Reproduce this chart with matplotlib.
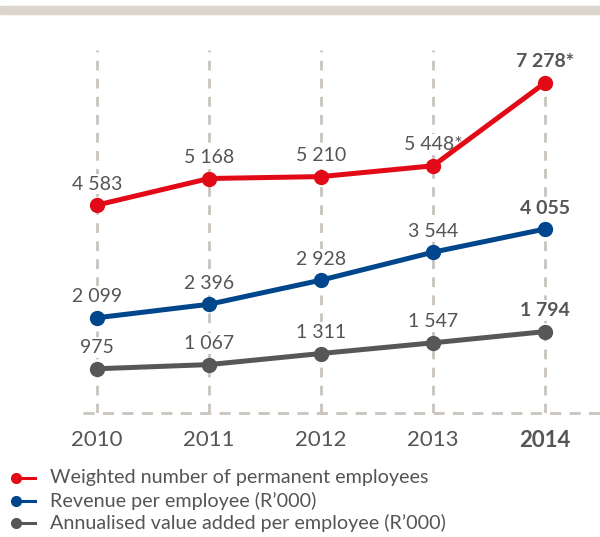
import matplotlib.pyplot as plt
from matplotlib.lines import Line2D
from matplotlib.patches import Rectangle

years = [2010, 2011, 2012, 2013, 2014]
year_labels = ["2010", "2011", "2012", "2013", "2014"]

employees = [4583, 5168, 5210, 5448, 7278]
employees_labels = ["4 583", "5 168", "5 210", "5 448*", "7 278*"]

revenue = [2099, 2396, 2928, 3544, 4055]
revenue_labels = ["2 099", "2 396", "2 928", "3 544", "4 055"]

value_added = [975, 1067, 1311, 1547, 1794]
value_added_labels = ["975", "1 067", "1 311", "1 547", "1 794"]

series_names = [
    "Weighted number of permanent employees",
    "Revenue per employee (R\u2019000)",
    "Annualised value added per employee (R\u2019000)",
]
colors = ["#e30a17", "#00468c", "#575757"]

text_color = "#555555"
grid_color = "#c9c4bc"

plt.rcParams["font.family"] = ["Lato", "DejaVu Sans"]

W, H = 600, 537
fig = plt.figure(figsize=(W / 100, H / 100), dpi=100)

# beige band along the top
fig.patches.append(Rectangle((0, 1 - 14 / H), 1, 8 / H, transform=fig.transFigure,
                             color="#dad5cd", zorder=0))

ax = fig.add_axes([83 / W, (H - 413) / H, (W - 83) / W, (413 - 50) / H])
ax.set_xlim(2009.875, 2014.49)
ax.set_ylim(0, 8000)
for s in ax.spines.values():
    s.set_visible(False)

# dashed grid
ax.vlines(years, 0, 8000, colors=grid_color, linewidth=2, linestyles=(0, (3.5, 3)), zorder=1)
ax.axhline(0, color=grid_color, linewidth=2, linestyle=(0, (4, 3)), zorder=1, clip_on=False)

all_series = [
    (employees, employees_labels),
    (revenue, revenue_labels),
    (value_added, value_added_labels),
]
for (vals, labels), color in zip(all_series, colors):
    ax.plot(years, vals, color=color, linewidth=3.6, marker="o", markersize=10,
            zorder=3, clip_on=False, solid_capstyle="round")
    for i, (x, y, lab) in enumerate(zip(years, vals, labels)):
        bold = i == len(years) - 1
        ax.annotate(lab, (x, y), xytext=(0, 9), textcoords="offset points",
                    ha="center", va="bottom", fontsize=14, color=text_color,
                    fontweight="bold" if bold else "normal", zorder=2,
                    bbox=dict(boxstyle="square,pad=0.1", fc="white", ec="none"))

ax.set_yticks([])
ax.set_xticks(years)
ax.set_xticklabels(year_labels, fontsize=16, color=text_color)
ax.tick_params(axis="x", length=0, pad=12)
ax.get_xticklabels()[-1].set_fontweight("bold")

# legend rows below the chart
for i, (name, color) in enumerate(zip(series_names, colors)):
    y = 1 - (478 + i * 22.5) / H
    fig.add_artist(Line2D([16 / W, 35 / W], [y, y], color=color, linewidth=2.2,
                          transform=fig.transFigure))
    fig.add_artist(Line2D([16 / W], [y], color=color, marker="o", markersize=7,
                          transform=fig.transFigure))
    fig.text(50 / W, y, name, fontsize=14.2, color=text_color, va="center", ha="left")

fig.savefig("out.png", dpi=100)
